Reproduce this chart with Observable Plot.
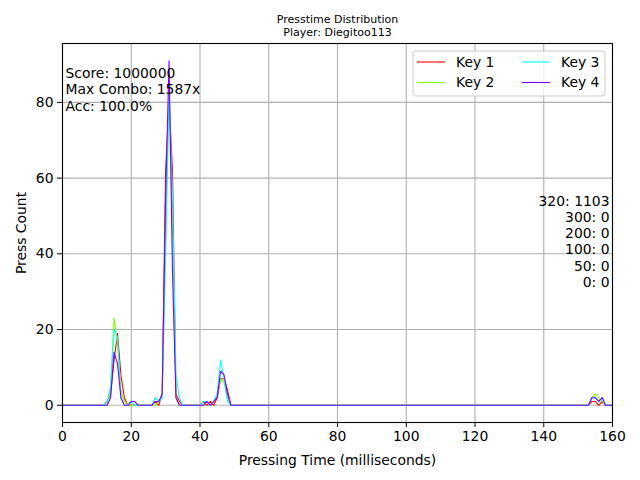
<!DOCTYPE html>
<html>
<head>
<meta charset="utf-8">
<script src="https://cdn.jsdelivr.net/npm/d3@7"></script>
<script src="https://cdn.jsdelivr.net/npm/@observablehq/plot@0.6"></script>
<style>
  html, body { margin: 0; padding: 0; background: #fff; }
  #chart svg { display: block; }
</style>
</head>
<body>
<div id="chart"></div>
<script>
// ---- data ----
const titleLines = ["Presstime Distribution", "Player: Diegitoo113"];
const keyNames = ["Key 1", "Key 2", "Key 3", "Key 4"];
const keyColors = ["#ff0000", "#80ff00", "#00ffff", "#8000ff"];
const timeBins = d3.range(0, 161); // ms bins 0..160
// non-zero [ms, count] readings per key (all other bins are 0)
const key1 = [[13,1],[14,3],[15,12],[16,19],[17,8],[18,2],[27,1],[29,3],[30,62],[31,80],[32,62],[33,3],[34,1],[41,1],[43,1],[45,2],[46,7],[47,7],[48,4],[154,1],[155,1],[157,1]];
const key2 = [[14,4],[15,23],[16,16],[17,4],[18,1],[28,1],[29,2],[30,45],[31,85],[32,45],[33,2],[42,1],[44,1],[45,3],[46,7],[47,6],[48,2],[154,2],[155,3],[156,2],[157,1]];
const key3 = [[13,1],[14,5],[15,20],[16,18],[17,2],[20,1],[27,2],[28,1],[29,2],[30,40],[31,83],[32,55],[33,8],[34,2],[41,1],[42,1],[44,1],[45,3],[46,12],[47,7],[48,1],[154,2],[155,2],[156,1],[157,2]];
const key4 = [[14,2],[15,14],[16,11],[17,2],[20,1],[21,1],[27,1],[28,1],[29,3],[30,55],[31,91],[32,35],[33,2],[42,1],[44,1],[45,2],[46,9],[47,8],[48,3],[154,2],[155,2],[156,1],[157,2]];
const statsLeft = ["Score: 1000000", "Max Combo: 1587x", "Acc: 100.0%"];
const judgeLabels = ["320", "300", "200", "100", "50", "0"];
const judgeCounts = [1103, 0, 0, 0, 0, 0];
const xTicks = [0, 20, 40, 60, 80, 100, 120, 140, 160];
const yTicks = [0, 20, 40, 60, 80];

// ---- build table ----
const series = [key1, key2, key3, key4];
const rows = [];
series.forEach((s, i) => {
  const m = new Map(s);
  timeBins.forEach(t => rows.push({key: keyNames[i], t, count: m.get(t) ?? 0}));
});

const FONT = "DejaVu Sans, sans-serif";
const FS = 13.9;

const plot = Plot.plot({
  width: 640,
  height: 480,
  marginLeft: 62,
  marginRight: 28,
  marginTop: 43,
  marginBottom: 58,
  style: {fontFamily: FONT, fontSize: FS + "px", background: "#fff", color: "#000"},
  x: {domain: [0, 160]},
  y: {domain: [-4.55, 95.55]},
  color: {domain: keyNames, range: keyColors},
  marks: [
    Plot.gridX(xTicks, {stroke: "#b0b0b0", strokeOpacity: 1, strokeWidth: 1.1}),
    Plot.gridY(yTicks, {stroke: "#b0b0b0", strokeOpacity: 1, strokeWidth: 1.1}),
    Plot.line(rows, {x: "t", y: "count", z: "key", stroke: "key", strokeWidth: 1.1, curve: "linear"}),
    Plot.axisX({ticks: xTicks, tickSize: 5, tickPadding: 4, fontSize: FS, label: "Pressing Time (milliseconds)", labelAnchor: "center", labelArrow: "none", labelOffset: 42}),
    Plot.axisY({ticks: yTicks, tickSize: 5, tickPadding: 4, fontSize: FS, label: "Press Count", labelAnchor: "center", labelArrow: "none", labelOffset: 46}),
    Plot.frame({stroke: "#000", strokeWidth: 1.1}),
    Plot.text([statsLeft.join("\n")], {frameAnchor: "top-left", textAnchor: "start", lineAnchor: "top", dx: 3, dy: 23, lineHeight: 1.17, fontSize: FS, fill: "#000"}),
    Plot.text([judgeLabels.map((l, i) => `${l}: ${judgeCounts[i]}`).join("\n")], {frameAnchor: "right", textAnchor: "end", lineAnchor: "middle", dx: -3, dy: 8, lineHeight: 1.17, fontSize: FS, fill: "#000"}),
    Plot.text([titleLines.join("\n")], {frameAnchor: "top", lineAnchor: "bottom", dy: -8, lineHeight: 1.1, fontSize: 11, fill: "#000"})
  ]
});

// legend drawn inside the axes (top-right), matplotlib style
const svg = d3.select(plot);
const lg = svg.append("g").attr("font-family", FONT).attr("font-size", FS).attr("text-anchor", "start");
lg.append("rect").attr("x", 413).attr("y", 51).attr("width", 192).attr("height", 45)
  .attr("rx", 3).attr("fill", "#fff").attr("fill-opacity", 0.8).attr("stroke", "#cccccc").attr("stroke-width", 1);
keyNames.forEach((k, i) => {
  const col = Math.floor(i / 2), row = i % 2;
  const x0 = 417 + col * 105, y0 = 62 + row * 20.5;
  lg.append("line").attr("x1", x0).attr("x2", x0 + 28).attr("y1", y0).attr("y2", y0)
    .attr("stroke", keyColors[i]).attr("stroke-width", 1.1);
  lg.append("text").attr("x", x0 + 39).attr("y", y0).attr("dy", "0.35em")
    .attr("text-anchor", "start").attr("fill", "#000").text(k);
});

document.getElementById("chart").appendChild(plot);
</script>
</body>
</html>
